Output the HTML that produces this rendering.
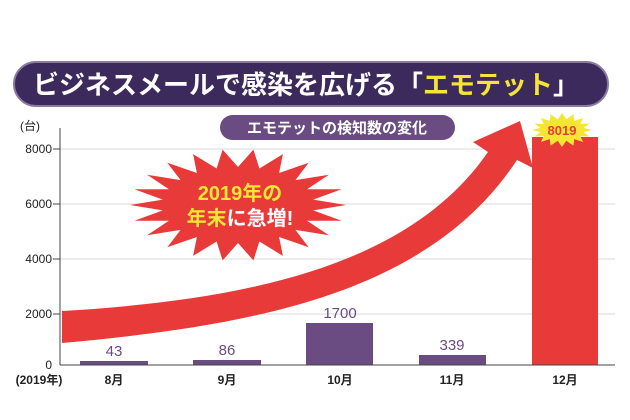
<!DOCTYPE html>
<html><head><meta charset="utf-8"><style>
html,body{margin:0;padding:0;background:#fff;}
svg{display:block;}
text{font-family:"Liberation Sans","Noto Sans CJK JP",sans-serif;}
</style></head><body>
<svg width="630" height="420" viewBox="0 0 630 420" xmlns="http://www.w3.org/2000/svg">
<rect width="630" height="420" fill="#fff"/>
<rect x="14" y="62" width="594" height="44" rx="22" fill="#3d2a5c" stroke="#8a7aa0" stroke-width="2"/>
<text x="306" y="94" text-anchor="middle" font-size="26" font-weight="bold" fill="#fff">ビジネスメールで感染を広げる「<tspan fill="#f5e634">エモテット</tspan>」</text>
<g stroke="#d8d8d8" stroke-width="1">
<line x1="60" y1="149" x2="615" y2="149"/>
<line x1="60" y1="204" x2="615" y2="204"/>
<line x1="60" y1="259" x2="615" y2="259"/>
<line x1="60" y1="314" x2="615" y2="314"/>
</g>
<rect x="220" y="115" width="235" height="25" rx="12.5" fill="#6a4c82"/>
<text x="337" y="133" text-anchor="middle" font-size="15" font-weight="bold" fill="#fff">エモテットの検知数の変化</text>
<g fill="#6a4c82">
<rect x="80" y="361" width="68" height="4"/>
<rect x="193" y="360" width="68" height="5"/>
<rect x="306" y="323" width="67" height="42"/>
<rect x="419" y="355" width="67" height="10"/>
</g>
<rect x="532" y="137" width="66" height="228" fill="#e83a38"/>
<path d="M62,311 C250,300 410,265 488,152 L473,142 L520,121 L533,168 L517,160 C430,292 260,325 62,343 Z" fill="#e83a38"/>
<line x1="60" y1="128" x2="60" y2="365" stroke="#444" stroke-width="1"/>
<line x1="60" y1="365" x2="615" y2="365" stroke="#444" stroke-width="1"/>
<g stroke="#444"><line x1="53" y1="149" x2="60" y2="149"/><line x1="53" y1="204" x2="60" y2="204"/><line x1="53" y1="259" x2="60" y2="259"/><line x1="53" y1="314" x2="60" y2="314"/></g>
<g font-size="12" fill="#222" text-anchor="end">
<text x="52" y="153">8000</text><text x="52" y="208">6000</text><text x="52" y="263">4000</text><text x="52" y="318">2000</text><text x="52" y="369">0</text>
</g>
<text x="20" y="130" font-size="12" fill="#222">(台)</text>
<g font-size="12" font-weight="bold" fill="#222" text-anchor="middle">
<text x="39" y="384">(2019年)</text>
<text x="114" y="384">8月</text><text x="227" y="384">9月</text><text x="340" y="384">10月</text><text x="452" y="384">11月</text><text x="565" y="384">12月</text>
</g>
<g font-size="15" fill="#6a4c82" text-anchor="middle">
<text x="114" y="356">43</text><text x="227" y="355">86</text><text x="340" y="318">1700</text><text x="452" y="350">339</text>
</g>
<polygon id="b" fill="#e83a38" points=""/>
<polygon id="y" fill="#f5e634" points=""/>
<text x="562" y="135" text-anchor="middle" font-size="13" font-weight="bold" fill="#e83a38">8019</text>
<g font-size="20" font-weight="bold" text-anchor="middle">
<text x="240" y="200" fill="#f5e634">2019年の</text>
<text x="240" y="225" fill="#fff"><tspan fill="#f5e634">年末</tspan>に急増!</text>
</g>
</svg>
<script>
(function(){
function star(cx,cy,ro,ry,ri,riy,n){var p=[];for(var i=0;i<2*n;i++){var a=Math.PI*i/n;var o=i%2==0;p.push((cx+Math.cos(a)*(o?ro:ri)).toFixed(1)+','+(cy+Math.sin(a)*(o?ry:riy)).toFixed(1));}return p.join(' ');}
document.getElementById('b').setAttribute('points',star(238,205,108,56,76,38,22));
document.getElementById('y').setAttribute('points',star(562,130,30,17,22,11,16));
})();
</script>
</body></html>
